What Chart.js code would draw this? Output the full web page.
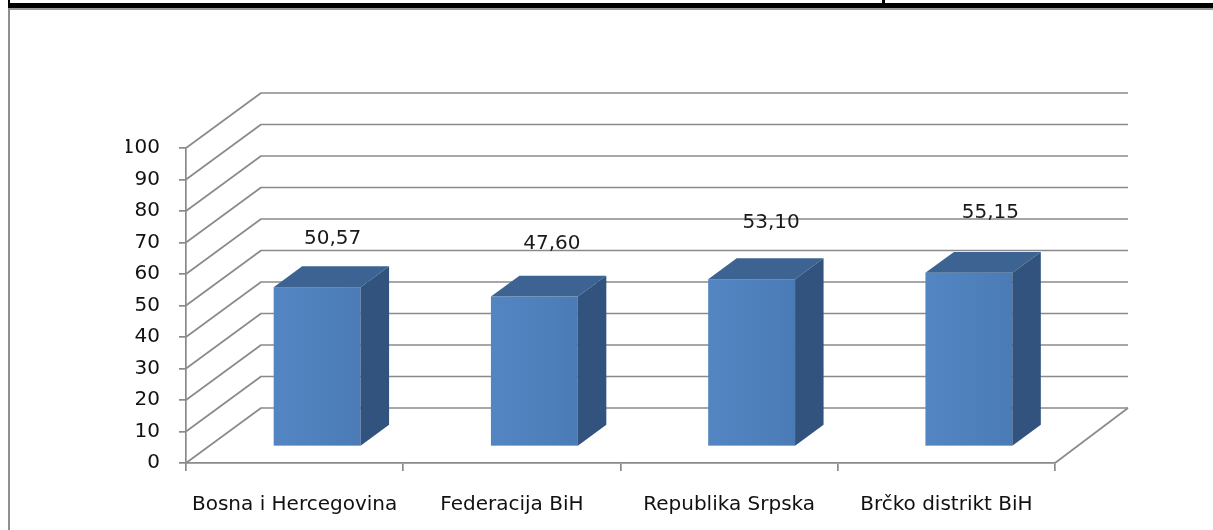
<!DOCTYPE html>
<html>
<head>
<meta charset="utf-8">
<script src="https://cdn.jsdelivr.net/npm/chart.js@4.4.0/dist/chart.umd.min.js"></script>
<style>
html,body{margin:0;padding:0;background:#fff;overflow:hidden;width:1213px;height:530px}
#c{position:absolute;left:0;top:0}
.f{position:absolute}
</style>
</head>
<body>
<canvas id="c" width="1213" height="530"></canvas>
<div class="f" style="left:8px;top:0;width:2px;height:4px;background:#000"></div>
<div class="f" style="left:882px;top:0;width:3px;height:4px;background:#000"></div>
<div class="f" style="left:8px;top:3px;width:1205px;height:5px;background:#000"></div>
<div class="f" style="left:8px;top:8px;width:1205px;height:2px;background:#9a9a9a"></div>
<div class="f" style="left:8px;top:8px;width:2px;height:522px;background:#8f8f8f"></div>
<script>
const categories = ['Bosna i Hercegovina', 'Federacija BiH', 'Republika Srpska', 'Brčko distrikt BiH'];
const values = [50.57, 47.60, 53.10, 55.15];
const valueLabels = ['50,57', '47,60', '53,10', '55,15'];
const yTicks = [0, 10, 20, 30, 40, 50, 60, 70, 80, 90, 100];

const DX = 75, DY = -55;      // depth of the 3D box
const Z0 = 0.30, ZD = 0.38;   // bar depth start / depth size
const GRID = '#8a8a8a';
const FONT = '"DejaVu Sans", sans-serif';

const box3d = {
  id: 'box3d',
  beforeDatasetsDraw(chart) {
    const { ctx, scales: { x, y } } = chart;
    const xL = x.left, xR = x.right;
    ctx.save();
    ctx.strokeStyle = GRID;
    ctx.lineWidth = 1.7;
    ctx.lineJoin = 'round';
    yTicks.forEach(v => {
      const py = y.getPixelForValue(v);
      ctx.beginPath();
      ctx.moveTo(xL, py);
      ctx.lineTo(xL + DX, py + DY);
      ctx.lineTo(xR + DX - 2, py + DY);
      ctx.stroke();
    });
    const p0 = y.getPixelForValue(0);
    ctx.beginPath();
    ctx.moveTo(xR, p0);
    ctx.lineTo(xR + DX - 2, p0 + DY);
    ctx.stroke();
    ctx.restore();
  },
  afterDatasetsDraw(chart) {
    const { ctx, scales: { y } } = chart;
    const meta = chart.getDatasetMeta(0);
    ctx.save();
    meta.data.forEach((bar, i) => {
      const p = bar.getProps(['x', 'y', 'base', 'width'], true);
      const ox = Z0 * DX, oy = Z0 * DY, dx = ZD * DX, dy = ZD * DY;
      const l = p.x - p.width / 2 + ox, r = p.x + p.width / 2 + ox;
      const t = p.y + oy, b = p.base + oy;
      // front face
      const g = ctx.createLinearGradient(l, 0, r, 0);
      g.addColorStop(0, '#5285c2');
      g.addColorStop(0.5, '#4f81bd');
      g.addColorStop(1, '#4a7bb6');
      ctx.fillStyle = g;
      ctx.fillRect(l, t, r - l, b - t);
      // top face
      ctx.fillStyle = '#3c6392';
      ctx.beginPath();
      ctx.moveTo(l, t); ctx.lineTo(l + dx, t + dy); ctx.lineTo(r + dx, t + dy); ctx.lineTo(r, t);
      ctx.closePath(); ctx.fill();
      // side face
      ctx.fillStyle = '#32537d';
      ctx.beginPath();
      ctx.moveTo(r, t); ctx.lineTo(r + dx, t + dy); ctx.lineTo(r + dx, b + dy); ctx.lineTo(r, b);
      ctx.closePath(); ctx.fill();
      // value label (placed above the box, with the slight perspective drift of the original)
      ctx.fillStyle = '#1a1a1a';
      ctx.font = '20px ' + FONT;
      ctx.textAlign = 'center';
      ctx.textBaseline = 'middle';
      ctx.fillText(valueLabels[i], p.x + 38 + 2 * i, y.getPixelForValue(values[i]) - (65 + 3.8 * i));
    });
    ctx.restore();
  }
};

new Chart(document.getElementById('c'), {
  type: 'bar',
  data: {
    labels: categories,
    datasets: [{
      data: values,
      backgroundColor: 'rgba(0,0,0,0)',
      borderWidth: 0,
      barPercentage: 0.4,
      categoryPercentage: 1
    }]
  },
  options: {
    responsive: false,
    animation: false,
    devicePixelRatio: 1,
    layout: { autoPadding: false, padding: { left: 126, right: 158, top: 148, bottom: 7 } },
    plugins: { legend: { display: false }, tooltip: { enabled: false } },
    scales: {
      x: {
        grid: { offset: true, drawOnChartArea: false, tickLength: 8, color: GRID, lineWidth: 1.7 },
        border: { display: true, color: GRID, width: 1.7 },
        ticks: { font: { family: FONT, size: 20 }, color: '#111', padding: 22, maxRotation: 0, autoSkip: false },
        afterFit(s) { s.height = 60; }
      },
      y: {
        min: 0, max: 100,
        afterBuildTicks(s) { s.ticks = yTicks.map(v => ({ value: v })); },
        grid: { drawOnChartArea: false, tickLength: 7, color: GRID, lineWidth: 1.7 },
        border: { display: true, color: GRID, width: 1.7 },
        ticks: { font: { family: FONT, size: 20 }, color: '#111', padding: 19 },
        afterFit(s) { s.width = 60; }
      }
    }
  },
  plugins: [box3d]
});
</script>
</body>
</html>
